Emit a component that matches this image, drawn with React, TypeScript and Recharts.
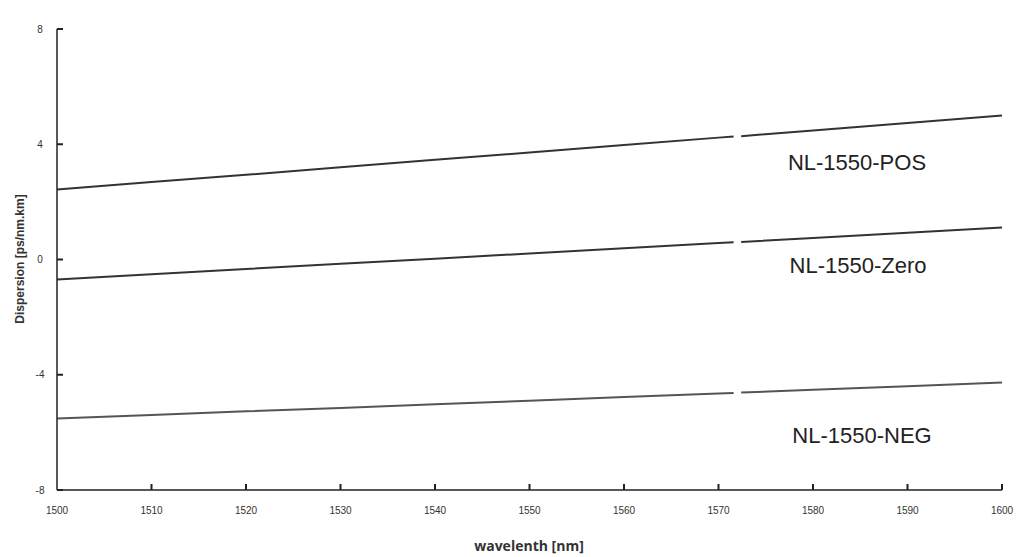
import React from "react";
import { LineChart, Line, XAxis, YAxis, ReferenceLine } from "recharts";

const wavelengths = [1500, 1510, 1520, 1530, 1540, 1550, 1560, 1570, 1571.6, 1572, 1572.4, 1580, 1590, 1600];
const posValues = [2.43, 2.69, 2.94, 3.2, 3.46, 3.71, 3.97, 4.23, 4.27, null, 4.28, 4.48, 4.74, 5.0];
const zeroValues = [-0.69, -0.51, -0.33, -0.15, 0.03, 0.21, 0.39, 0.57, 0.6, null, 0.61, 0.75, 0.93, 1.11];
const negValues = [-5.52, -5.4, -5.27, -5.15, -5.02, -4.9, -4.77, -4.65, -4.63, null, -4.62, -4.52, -4.4, -4.27];
const xTicks = [1500, 1510, 1520, 1530, 1540, 1550, 1560, 1570, 1580, 1590, 1600];
const yTicks = [-8, -4, 0, 4, 8];
const seriesLabels = ["NL-1550-POS", "NL-1550-Zero", "NL-1550-NEG"];

const data = wavelengths.map((w, i) => ({
  w,
  pos: posValues[i],
  zero: zeroValues[i],
  neg: negValues[i],
}));

const AXIS_X = 57;
const AXIS_Y = 490;

const YTick = (props: any) => {
  const { y, payload } = props;
  return (
    <g>
      <rect x={AXIS_X} y={y - 1} width={6} height={2} fill="#222" />
      <text x={AXIS_X - 17} y={y} textAnchor="middle" dominantBaseline="central" fontSize={10} fill="#333" fontFamily="Liberation Sans, Arial, sans-serif">
        {payload.value}
      </text>
    </g>
  );
};

const XTick = (props: any) => {
  const { x, payload } = props;
  return (
    <g>
      {payload.value !== 1500 && <rect x={x - 1} y={AXIS_Y - 6} width={2} height={6} fill="#222" />}
      <text x={x} y={AXIS_Y + 20} textAnchor="middle" dominantBaseline="central" fontSize={10} fill="#333" fontFamily="Liberation Sans, Arial, sans-serif">
        {payload.value}
      </text>
    </g>
  );
};

export default function App() {
  return (
    <div style={{ position: "absolute", left: 0, top: 0, width: 1019, height: 557, background: "#fff" }}>
      <LineChart width={1019} height={557} data={data} margin={{ top: 29, right: 17, left: 17, bottom: 37 }}>
        <Line dataKey="pos" stroke="#333" strokeWidth={2} dot={false} isAnimationActive={false} connectNulls={false} />
        <Line dataKey="zero" stroke="#333" strokeWidth={2} dot={false} isAnimationActive={false} connectNulls={false} />
        <Line dataKey="neg" stroke="#555" strokeWidth={2} dot={false} isAnimationActive={false} connectNulls={false} />
        <XAxis
          dataKey="w"
          type="number"
          domain={[1500, 1600]}
          ticks={xTicks}
          tickLine={false}
          tickSize={0}
          tickMargin={20}
          height={30}
          axisLine={{ stroke: "#222", strokeWidth: 1.5 }}
          tick={<XTick />}
        />
        <YAxis
          type="number"
          domain={[-8, 8]}
          ticks={yTicks}
          tickLine={false}
          tickSize={0}
          tickMargin={17}
          width={40}
          axisLine={{ stroke: "#222", strokeWidth: 1.5 }}
          tick={<YTick />}
        />
        <text x={857} y={162} textAnchor="middle" dominantBaseline="central" fontSize={22} fill="#222" fontFamily="Liberation Sans, Arial, sans-serif">
          {seriesLabels[0]}
        </text>
        <text x={858} y={265} textAnchor="middle" dominantBaseline="central" fontSize={22} fill="#222" fontFamily="Liberation Sans, Arial, sans-serif">
          {seriesLabels[1]}
        </text>
        <text x={862} y={435} textAnchor="middle" dominantBaseline="central" fontSize={22} fill="#222" fontFamily="Liberation Sans, Arial, sans-serif">
          {seriesLabels[2]}
        </text>
        <text x={529} y={545} textAnchor="middle" dominantBaseline="central" fontSize={14} fontWeight="bold" fill="#333" fontFamily="Open Sans, Liberation Sans, sans-serif">
          wavelenth [nm]
        </text>
        <text x={20} y={259} textAnchor="middle" dominantBaseline="central" fontSize={12} fontWeight="bold" fill="#333" fontFamily="Liberation Sans, Arial, sans-serif" transform="rotate(-90 20 259)">
          Dispersion [ps/nm.km]
        </text>
      </LineChart>
    </div>
  );
}
